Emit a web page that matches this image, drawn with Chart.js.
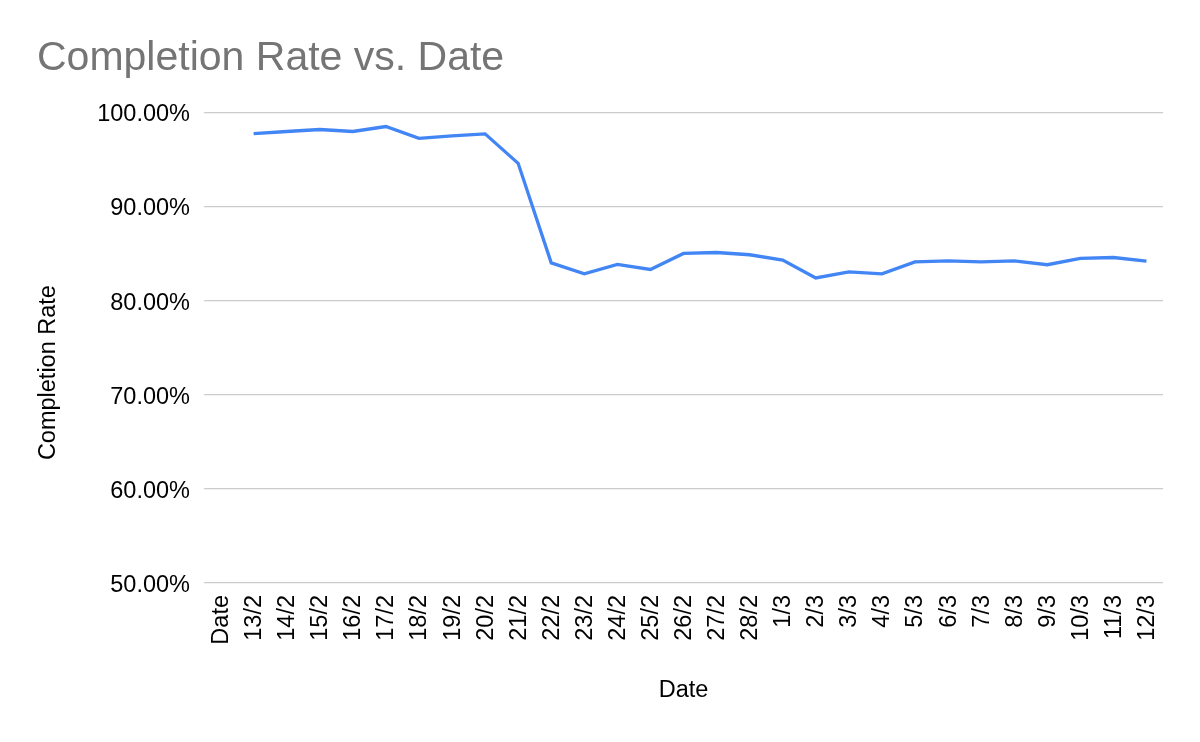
<!DOCTYPE html>
<html>
<head>
<meta charset="utf-8">
<script src="https://cdn.jsdelivr.net/npm/chart.js@4"></script>
<style>
  html, body { margin: 0; padding: 0; background: #ffffff; }
  #wrap { width: 1200px; height: 742px; position: relative; }
</style>
</head>
<body>
<div id="wrap"><canvas id="c" width="1200" height="742"></canvas></div>
<script>
const categories = ["Date", "13/2", "14/2", "15/2", "16/2", "17/2", "18/2", "19/2", "20/2", "21/2", "22/2", "23/2", "24/2", "25/2", "26/2", "27/2", "28/2", "1/3", "2/3", "3/3", "4/3", "5/3", "6/3", "7/3", "8/3", "9/3", "10/3", "11/3", "12/3"];
const completionRate = [null, 97.73, 97.95, 98.16, 97.95, 98.48, 97.23, 97.48, 97.70, 94.57, 84.00, 82.84, 83.83, 83.30, 85.00, 85.10, 84.86, 84.30, 82.40, 83.05, 82.84, 84.10, 84.20, 84.10, 84.20, 83.80, 84.47, 84.57, 84.18];
const yTicks = [50, 60, 70, 80, 90, 100];

const FONT = "Arial, 'Liberation Sans', Helvetica, sans-serif";

// shift the y-axis title down (reference centres it lower than the plot middle)
const yTitleShift = 25;
const yTitlePlugin = {
  id: 'yTitleShift',
  beforeDraw(chart) {}
};

new Chart(document.getElementById('c'), {
  type: 'line',
  data: {
    labels: categories,
    datasets: [{
      label: 'Completion Rate',
      data: completionRate,
      borderColor: '#4285F4',
      backgroundColor: '#4285F4',
      borderWidth: 3.3,
      pointRadius: 0,
      pointHoverRadius: 0,
      tension: 0,
      spanGaps: false
    }]
  },
  options: {
    responsive: false,
    animation: false,
    devicePixelRatio: 1,
    layout: { padding: { left: 37, right: 37, top: 0, bottom: 0 } },
    plugins: {
      legend: { display: false },
      tooltip: { enabled: false },
      title: {
        display: true,
        text: 'Completion Rate vs. Date',
        align: 'start',
        color: '#757575',
        font: { family: FONT, size: 41, weight: 'normal' },
        padding: { top: 34, bottom: 29 }
      }
    },
    scales: {
      x: {
        type: 'category',
        offset: true,
        grid: { display: false, drawTicks: false },
        border: { display: false },
        ticks: {
          autoSkip: false,
          minRotation: 90,
          maxRotation: 90,
          padding: 12,
          labelOffset: 1,
          color: '#000000',
          font: { family: FONT, size: 23.5 }
        },
        title: {
          display: true,
          text: 'Date',
          color: '#000000',
          font: { family: FONT, size: 23.5 },
          padding: { top: 0, bottom: 37 }
        },
        afterFit: (s) => { s.height = 159; }
      },
      y: {
        min: 50,
        max: 100,
        afterBuildTicks: (s) => { s.ticks = yTicks.map(v => ({ value: v })); },
        grid: { color: '#cccccc', lineWidth: 1.3, drawTicks: false },
        border: { display: false },
        ticks: {
          padding: 14,
          labelOffset: 2.5,
          color: '#000000',
          font: { family: FONT, size: 23.5 },
          callback: (v) => v.toFixed(2) + '%'
        },
        title: {
          display: true,
          text: 'Completion Rate',
          color: '#000000',
          font: { family: FONT, size: 23.5 },
          padding: { top: -3, bottom: 0 }
        },
        afterFit: (s) => { s.width = 167; },
        afterUpdate: (s) => {
          // draw the title area centred lower, like the reference
        }
      }
    }
  },
  plugins: [{
    id: 'shiftYTitle',
    beforeDatasetsDraw() {},
    afterLayout(chart) {
      const y = chart.scales.y;
      y._titleShift = yTitleShift;
    },
    beforeDraw(chart) {
      const y = chart.scales.y;
      if (!y._patched) {
        const orig = y.drawTitle.bind(y);
        y.drawTitle = function () {
          const ctx = this.ctx;
          ctx.save();
          ctx.translate(0, yTitleShift);
          orig();
          ctx.restore();
        };
        y._patched = true;
      }
    }
  }]
});
</script>
</body>
</html>
